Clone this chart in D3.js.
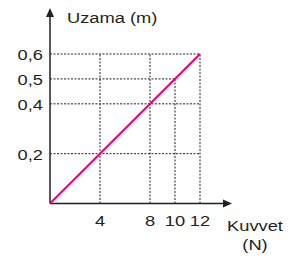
<!DOCTYPE html>
<html><head><meta charset="utf-8">
<script src="https://cdn.jsdelivr.net/npm/d3@7"></script>
<style>html,body{margin:0;padding:0;background:#fff;}svg{display:block;}</style>
</head><body>
<svg id="c" width="301" height="259"></svg>
<script>
const forceData = [0, 12];
const extensionData = [0, 0.6];
const xTicks = [4, 8, 10, 12];
const yTicks = [0.2, 0.4, 0.5, 0.6];
const yTickLabels = ["0,2", "0,4", "0,5", "0,6"];
const xTitle = ["Kuvvet", "(N)"];
const yTitle = "Uzama (m)";

const svg = d3.select("#c");
const x = d3.scaleLinear().domain([0, 12]).range([50, 200]);
const y = d3.scaleLinear().domain([0, 0.6]).range([203.5, 54]);
const ink = "#231f20";
const font = "Liberation Sans, Arial, sans-serif";
const fs = 15.5, sx = 1.18;

function label(px, py, txt, anchor) {
  svg.append("text")
    .attr("transform", `translate(${px},${py}) scale(${sx},1)`)
    .attr("text-anchor", anchor || "start")
    .attr("font-family", font).attr("font-size", fs).attr("fill", ink).text(txt);
}

const grid = svg.append("g").attr("stroke", ink).attr("stroke-width", 1).attr("stroke-dasharray", "2,1.5");
xTicks.forEach(t => {
  const yv = t === 10 ? 0.5 : 0.6;
  grid.append("line").attr("x1", x(t)).attr("x2", x(t)).attr("y1", y(0)).attr("y2", y(yv));
});
yTicks.forEach(t => {
  const xv = t === 0.5 ? 10 : 12;
  grid.append("line").attr("x1", x(0)).attr("x2", x(xv)).attr("y1", y(t)).attr("y2", y(t));
});

svg.append("line").attr("x1", x(0)).attr("x2", 226).attr("y1", y(0)).attr("y2", y(0)).attr("stroke", ink).attr("stroke-width", 1.5);
svg.append("path").attr("d", `M232,${y(0)} L223,${y(0)-4} L223,${y(0)+4} Z`).attr("fill", ink);
svg.append("line").attr("x1", x(0)).attr("x2", x(0)).attr("y1", y(0)).attr("y2", 15).attr("stroke", ink).attr("stroke-width", 1.5);
svg.append("path").attr("d", `M${x(0)},8 L${x(0)-4},17 L${x(0)+4},17 Z`).attr("fill", ink);

svg.append("path").datum(forceData.map((f, i) => [f, extensionData[i]]))
  .attr("d", d3.line().x(d => x(d[0])).y(d => y(d[1])))
  .attr("stroke", "#e6007e").attr("stroke-width", 2).attr("fill", "none");

xTicks.forEach(t => label(x(t), 226, String(t), "middle"));
yTicks.forEach((t, i) => label(43, y(t) + 6, yTickLabels[i], "end"));

label(67, 22.5, yTitle);
label(255, 231, xTitle[0], "middle");
label(255, 250, xTitle[1], "middle");
</script>
</body></html>
